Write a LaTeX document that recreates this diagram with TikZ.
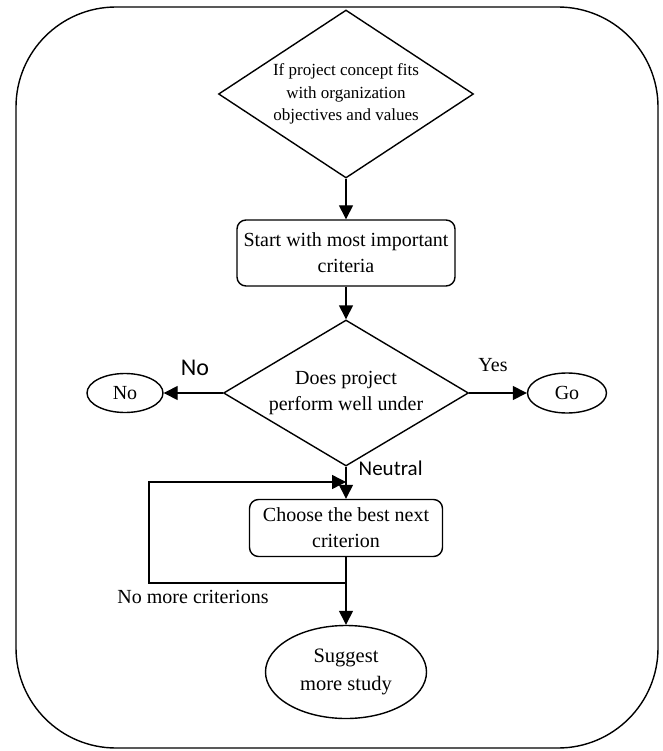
\documentclass[tikz,border=0pt]{standalone}
\usepackage{fontspec}
\setmainfont{Liberation Serif}
\newfontfamily\calibri{Carlito}
\usetikzlibrary{shapes.geometric,arrows.meta}
\begin{document}
\begin{tikzpicture}[x=1pt,y=-1pt,
  line width=1.4pt,
  arr/.style={-{Triangle[length=14pt,width=14pt]}},
  bigtext/.style={font=\fontsize{20}{26}\selectfont},
  decision/.style={diamond,draw,inner sep=0pt},
  procbox/.style={rectangle,draw,rounded corners=9pt,inner sep=0pt,align=center,bigtext},
  term/.style={ellipse,draw,inner sep=0pt,align=center,bigtext},
  lbl/.style={inner sep=0pt}
]
\useasboundingbox (0,0) rectangle (662,751);
\draw[rounded corners=100pt] (16,7) rectangle (658,748);

\node[decision,minimum width=255pt,minimum height=168pt,
      label={[align=center,font=\fontsize{17}{22.5}\selectfont]center:{If project concept fits\\with organization\\objectives and values}}] (d1) at (346,94) {};
\node[procbox,minimum width=218pt,minimum height=66pt] (b1) at (346,253)
  {Start with most important\\criteria};
\node[decision,minimum width=245pt,minimum height=146pt,
      label={[align=center,bigtext]center:{Does project\\perform well under}}] (d2) at (346,393) {};
\node[term,minimum width=76pt,minimum height=39pt] (no) at (125,393) {No};
\node[term,minimum width=79pt,minimum height=40pt] (go) at (567,393) {Go};
\node[procbox,minimum width=193pt,minimum height=57pt] (b2) at (346,528)
  {Choose the best next\\criterion};
\node[term,minimum width=161pt,minimum height=93pt,font=\fontsize{20.5}{28}\selectfont] (sg) at (346,672)
  {Suggest\\more study};

\draw[arr] (d1.south) -- (b1.north);
\draw[arr] (b1.south) -- (d2.north);
\draw[arr] (d2.west) -- (no.east);
\draw[arr] (d2.east) -- (go.west);
\draw[arr] (d2.south) -- (b2.north);
\draw[arr] (b2.south) -- (sg.north);

\coordinate (split) at (346,583);
\coordinate (loopcorner) at (149,482);
\coordinate (merge) at (346,482);
\draw[arr] (split) -| (loopcorner) -- (merge);

\node[lbl,font=\calibri\fontsize{24}{28}\selectfont] (lno) at (195,368) {No};
\node[lbl,bigtext] (lyes) at (493,365) {Yes};
\node[lbl,anchor=west,font=\calibri\fontsize{21}{24}\selectfont] (lneu) at (358,468) {Neutral};
\node[lbl,bigtext] (lnomore) at (193,597) {No more criterions};
\end{tikzpicture}
\end{document}
